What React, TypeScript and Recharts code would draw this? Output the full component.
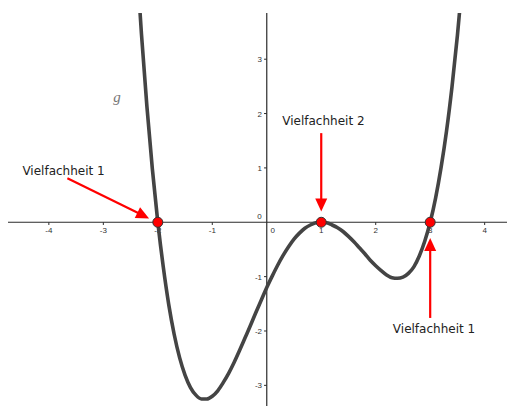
import React from "react";
import {
  LineChart, Line, XAxis, YAxis, ReferenceLine, ReferenceDot,
} from "recharts";

// g(x) sampled every 0.1
const xs = [
  -2.4, -2.3, -2.2, -2.1, -2.0, -1.9, -1.8, -1.7, -1.6, -1.5, -1.4, -1.3, -1.2, -1.1, -1.0,
  -0.9, -0.8, -0.7, -0.6, -0.5, -0.4, -0.3, -0.2, -0.1, 0.0, 0.1, 0.2, 0.3, 0.4, 0.5,
  0.6, 0.7, 0.8, 0.9, 1.0, 1.1, 1.2, 1.3, 1.4, 1.5, 1.6, 1.7, 1.8, 1.9, 2.0,
  2.1, 2.2, 2.3, 2.4, 2.5, 2.6, 2.7, 2.8, 2.9, 3.0, 3.1, 3.2, 3.3, 3.4, 3.5, 3.6,
];
const gValues = [
  4.99, 3.46, 2.13, 0.98, 0.0, -0.82, -1.51, -2.06, -2.49, -2.81, -3.04, -3.18, -3.25, -3.25, -3.2,
  -3.1, -2.95, -2.78, -2.58, -2.36, -2.13, -1.9, -1.66, -1.43, -1.2, -0.99, -0.79, -0.61, -0.45, -0.31,
  -0.2, -0.11, -0.05, -0.01, 0.0, -0.01, -0.05, -0.1, -0.17, -0.26, -0.36, -0.47, -0.58, -0.7, -0.8,
  -0.89, -0.97, -1.02, -1.03, -1.01, -0.94, -0.82, -0.62, -0.35, 0.0, 0.45, 1.01, 1.68, 2.49, 3.44, 4.54,
];

const xTicks = [-4, -3, -2, -1, 1, 2, 3, 4];
const yTicks = [-3, -2, -1, 1, 2, 3];
const roots = [-2, 1, 3];

// annotation arrows: from (x1, y1) to the tip (x2, y2)
const arrows = [
  { x1: -3.66, y1: 0.81, x2: -2.16, y2: 0.07 },
  { x1: 1.0, y1: 1.64, x2: 1.0, y2: 0.2 },
  { x1: 3.0, y1: -1.76, x2: 3.0, y2: -0.29 },
];
const notes = [
  { x: -3.73, y: 0.94, text: "Vielfachheit 1" },
  { x: 1.04, y: 1.86, text: "Vielfachheit 2" },
  { x: 3.07, y: -1.97, text: "Vielfachheit 1" },
];

const data = xs.map((x, i) => ({ x, y: gValues[i] }));

const AXIS = "#2b2b2b";
const TICK_TEXT = "#333";
const RED = "#ff0000";

function Arrow(props: any) {
  const { x1, y1, x2, y2 } = props;
  const dx = x2 - x1;
  const dy = y2 - y1;
  const len = Math.sqrt(dx * dx + dy * dy);
  const ux = dx / len;
  const uy = dy / len;
  const headLen = 13;
  const headW = 6;
  const bx = x2 - ux * headLen;
  const by = y2 - uy * headLen;
  const pts = [
    `${x2},${y2}`,
    `${bx - uy * headW},${by + ux * headW}`,
    `${bx + uy * headW},${by - ux * headW}`,
  ].join(" ");
  return (
    <g>
      <line x1={x1} y1={y1} x2={bx + ux * 2} y2={by + uy * 2} stroke={RED} strokeWidth={2.2} />
      <polygon points={pts} fill={RED} />
    </g>
  );
}

export default function App() {
  return (
    <div style={{ position: "absolute", left: 0, top: 0, width: 507, height: 406, background: "#fff" }}>
      <LineChart width={507} height={406} data={data} margin={{ left: 8, right: 0, top: 13, bottom: 0 }}>
        <XAxis dataKey="x" type="number" domain={[-4.75, 4.41]} allowDataOverflow hide />
        <YAxis type="number" domain={[-3.38, 3.85]} allowDataOverflow hide />

        <ReferenceLine y={0} stroke={AXIS} strokeWidth={1.2} />
        <ReferenceLine x={0} stroke={AXIS} strokeWidth={1.2} />

        {xTicks.map((v) => (
          <ReferenceLine
            key={`xt${v}`}
            segment={[{ x: v, y: 0 }, { x: v, y: -0.05 }]}
            shape={(p: any) => (
              <g>
                <line x1={p.x1} y1={p.y1} x2={p.x2} y2={p.y2} stroke={AXIS} strokeWidth={1} />
                <text x={p.x1} y={p.y1 + 11} textAnchor="middle" fontSize={8} fontFamily="Liberation Sans, Arial, sans-serif" fill={TICK_TEXT}>
                  {v}
                </text>
              </g>
            )}
          />
        ))}
        {yTicks.map((v) => (
          <ReferenceLine
            key={`yt${v}`}
            segment={[{ x: 0, y: v }, { x: -0.05, y: v }]}
            shape={(p: any) => (
              <g>
                <line x1={p.x1} y1={p.y1} x2={p.x2} y2={p.y2} stroke={AXIS} strokeWidth={1} />
                <text x={p.x2 - 2} y={p.y1 + 3} textAnchor="end" fontSize={8} fontFamily="Liberation Sans, Arial, sans-serif" fill={TICK_TEXT}>
                  {v}
                </text>
              </g>
            )}
          />
        ))}
        {/* origin labels: one under the x-axis, one left of the y-axis */}
        <ReferenceDot
          x={0}
          y={0}
          r={0}
          shape={(p: any) => (
            <g fontSize={8} fontFamily="Liberation Sans, Arial, sans-serif" fill={TICK_TEXT}>
              <text x={p.cx + 6} y={p.cy + 11} textAnchor="middle">0</text>
              <text x={p.cx - 5} y={p.cy - 3} textAnchor="end">0</text>
            </g>
          )}
        />

        <Line
          dataKey="y"
          type="monotone"
          stroke="#444"
          strokeWidth={3.6}
          dot={false}
          activeDot={false}
          isAnimationActive={false}
        />

        {roots.map((r) => (
          <ReferenceDot key={`r${r}`} x={r} y={0} r={5} fill={RED} stroke="#333" strokeWidth={1} />
        ))}

        {arrows.map((a, i) => (
          <ReferenceLine
            key={`a${i}`}
            segment={[{ x: a.x1, y: a.y1 }, { x: a.x2, y: a.y2 }]}
            shape={(p: any) => <Arrow {...p} />}
          />
        ))}

        {notes.map((n, i) => (
          <ReferenceDot
            key={`n${i}`}
            x={n.x}
            y={n.y}
            r={0}
            shape={(p: any) => (
              <text x={p.cx} y={p.cy + 4} textAnchor="middle" fontSize={12} fontFamily="DejaVu Sans, sans-serif" fill="#222">
                {n.text}
              </text>
            )}
          />
        ))}

        <ReferenceDot
          x={-2.75}
          y={2.26}
          r={0}
          shape={(p: any) => (
            <text x={p.cx} y={p.cy + 3} textAnchor="middle" fontSize={15} fontStyle="italic" fontFamily="Liberation Serif, serif" fill="#777">
              g
            </text>
          )}
        />
      </LineChart>
    </div>
  );
}
